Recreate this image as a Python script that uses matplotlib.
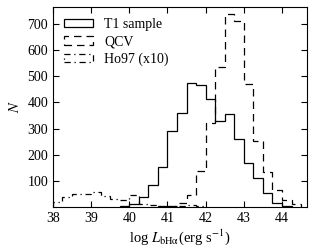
import matplotlib
matplotlib.use("Agg")
import matplotlib.pyplot as plt
from matplotlib.patches import Rectangle
import numpy as np

plt.rcParams['font.family'] = ['Liberation Serif', 'DejaVu Serif']
plt.rcParams['mathtext.fontset'] = 'stix'

# bin edges (log L, 0.25 dex)
t1_start = 39.75
t1_counts = [5, 12, 38, 84, 153, 290, 358, 473, 466, 415, 329, 355, 259, 167, 110, 52, 16, 4]

qcv_start = 40.75
qcv_counts = [3, 5, 15, 46, 138, 320, 536, 737, 712, 469, 252, 135, 65, 25, 12]

ho_start = 38.0
ho_counts = [18, 40, 48, 50, 57, 42, 32, 27, 46, 10, 8, 3, 3, 2, 8, 3]

labels = ['T1 sample', 'QCV', 'Ho97 (x10)']

bin_width = 0.25
xticks = [38, 39, 40, 41, 42, 43, 44]
yticks = [100, 200, 300, 400, 500, 600, 700]

def edges(start, n):
    return start + bin_width * np.arange(n + 1)

fig = plt.figure(figsize=(3.17, 2.5), dpi=100)
ax = fig.add_axes([0.167, 0.172, 0.801, 0.800])

styles = ['-', (0, (6, 4)), (0, (5, 3, 1, 3))]
series = [(t1_start, t1_counts), (qcv_start, qcv_counts), (ho_start, ho_counts)]
handles = []
for (start, counts), ls, lab in zip(series, styles, labels):
    ax.stairs(counts, edges(start, len(counts)), color='black', lw=0.9,
              linestyle=ls, baseline=0)
    handles.append(Rectangle((0, 0), 1, 1, fill=False, edgecolor='black',
                             lw=0.9, linestyle=ls))

ax.set_xlim(38, 44.65)
ax.set_ylim(0, 765)
ax.set_xticks(xticks)
ax.set_yticks(yticks)
ax.tick_params(direction='in', top=True, right=True, labelsize=10, length=4, width=0.8)
for s in ax.spines.values():
    s.set_linewidth(0.8)

ax.set_xlabel(r'log $L_{\rm bH\alpha}$(erg s$^{-1}$)', fontsize=10.5, labelpad=2)
ax.set_ylabel(r'$N$', fontsize=10.5, labelpad=4)

ax.legend(handles, labels, loc='upper left', frameon=False, fontsize=10,
          handlelength=2.1, handleheight=0.55, labelspacing=0.3,
          borderaxespad=0.4, handletextpad=0.8)

fig.savefig('out.png', dpi=100)
